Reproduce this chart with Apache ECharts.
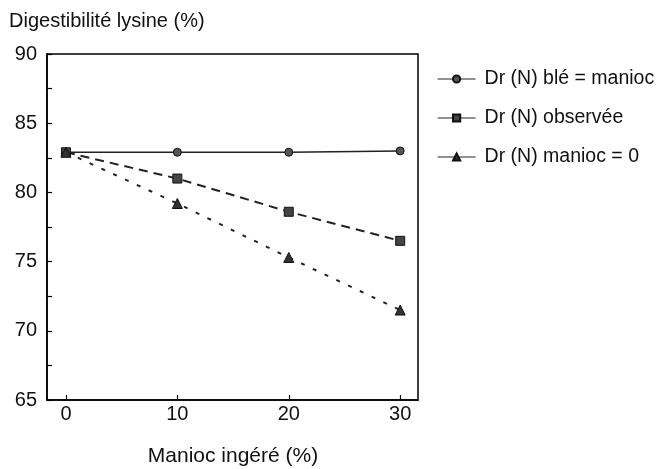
<!DOCTYPE html>
<html><head><meta charset="utf-8">
<script src="https://cdn.jsdelivr.net/npm/echarts@6/dist/echarts.min.js"></script>
<style>html,body{margin:0;padding:0;background:#fff}#c{width:658px;height:469px}</style>
</head><body><div id="c"></div>
<script>
const xValues = [0, 10, 20, 30];
const seriesNames = ['Dr (N) blé = manioc', 'Dr (N) observée', 'Dr (N) manioc = 0'];
const bleEqManioc = [82.9, 82.9, 82.9, 83.0];
const observee = [82.9, 81.0, 78.6, 76.5];
const maniocZero = [82.9, 79.2, 75.3, 71.5];
const xTicks = [0, 10, 20, 30];
const yTicks = [65, 70, 75, 80, 85, 90];

const font = '"Liberation Sans", Arial, sans-serif';
const pair = arr => xValues.map((x, i) => [x, arr[i]]);

const chart = echarts.init(document.getElementById('c'));
chart.setOption({
  animation: false,
  backgroundColor: '#fff',
  textStyle: { fontFamily: font },
  grid: { left: 47, top: 54, width: 371, height: 346, show: true, borderColor: '#000', borderWidth: 1.5, backgroundColor: 'transparent' },
  title: [
    { text: 'Digestibilité lysine (%)', left: 4, top: 6, textStyle: { fontFamily: font, fontSize: 20, fontWeight: 'normal', color: '#111' } },
    { text: 'Manioc ingéré (%)', left: 228, textAlign: 'center', top: 441, textStyle: { fontFamily: font, fontSize: 21, fontWeight: 'normal', color: '#111' } }
  ],
  legend: {
    orient: 'vertical', left: 432, top: 64, itemGap: 19, itemWidth: 38, itemHeight: 9,
    data: seriesNames,
    textStyle: { fontFamily: font, fontSize: 19.5, color: '#111', padding: [0, 0, 0, 4] },
    lineStyle: { type: 'solid', width: 1.2 }
  },
  xAxis: {
    type: 'value', min: -1.7, max: 31.6,
    axisLine: { show: true, onZero: false, lineStyle: { color: '#000', width: 1.5 } },
    axisTick: { show: true, inside: true, length: 5, customValues: xTicks, lineStyle: { color: '#000', width: 1.2 } },
    axisLabel: { customValues: xTicks, fontFamily: font, fontSize: 20, color: '#111', margin: 4 },
    splitLine: { show: false }
  },
  yAxis: {
    type: 'value', min: 65, max: 90, interval: 5,
    axisLine: { show: true, onZero: false, lineStyle: { color: '#000', width: 1.5 } },
    axisTick: { show: true, inside: true, length: 5, lineStyle: { color: '#000', width: 1.2 } },
    minorTick: { show: true, splitNumber: 2, length: 5, lineStyle: { color: '#000', width: 1.2 } },
    axisLabel: { fontFamily: font, fontSize: 20, color: '#111', margin: 10 },
    splitLine: { show: false }
  },
  series: [
    { name: seriesNames[0], type: 'line', data: pair(bleEqManioc), symbol: 'circle', symbolSize: 8,
      lineStyle: { color: '#222', width: 1.5, type: 'solid' },
      itemStyle: { color: '#555', borderColor: '#111', borderWidth: 1 } },
    { name: seriesNames[1], type: 'line', data: pair(observee), symbol: 'rect', symbolSize: 9,
      lineStyle: { color: '#222', width: 2, type: [9, 6] },
      itemStyle: { color: '#444', borderColor: '#111', borderWidth: 1 } },
    { name: seriesNames[2], type: 'line', data: pair(maniocZero), symbol: 'triangle', symbolSize: 10,
      lineStyle: { color: '#222', width: 2, type: [4, 9] },
      itemStyle: { color: '#333', borderColor: '#111', borderWidth: 1 } }
  ]
});
</script></body></html>
